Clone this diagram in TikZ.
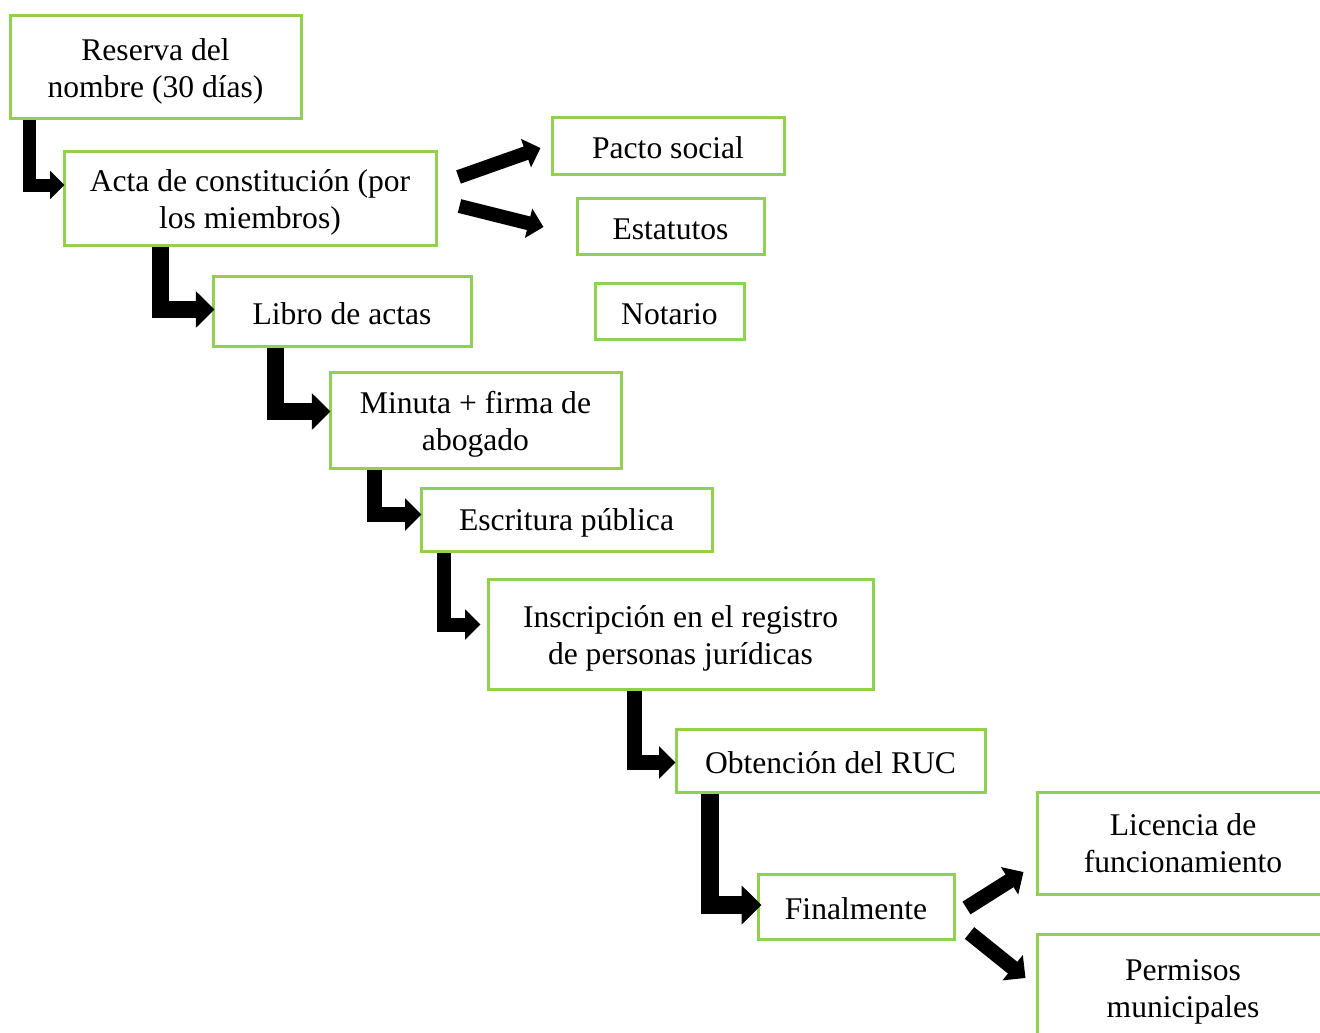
\documentclass[tikz,border=0pt]{standalone}
\usepackage{fontspec}
\setmainfont{Liberation Serif}
\usetikzlibrary{arrows.meta,calc}
\definecolor{boxgreen}{RGB}{146,208,80}
\newcommand{\boxfont}{\fontsize{23.7}{27.75}\selectfont}
\tikzset{every picture/.style={line width=0.75pt}}
\tikzset{
  lift/.style={execute at begin node={\rule{0pt}{#1}}},
  box/.style={draw=boxgreen, line width=2.25pt, fill=white, inner sep=0pt, align=center, font=\boxfont, lift=19.8pt},
  elbow/.style={draw=black, line width=#1, line join=miter, -{Triangle[length=0pt 1.1, width=0pt 2.1]}},
}

\begin{document}
\begin{tikzpicture}[x=0.75pt,y=0.75pt,yscale=-1,xscale=1]
\useasboundingbox (0,0) rectangle (1320,1032);
\clip (0,0) rectangle (1320,1032);

% Steps
\node [box, lift=51pt, minimum width=218.25pt, minimum height=77.25pt] (reserva) at (155.5,66.5) {Reserva del\\nombre (30 días)};
\node [box, lift=51pt, minimum width=279pt, minimum height=70.5pt] (acta) at (250,198) {Acta de constitución (por\\los miembros)};
\node [box, minimum width=193.5pt, minimum height=52.5pt] (libro) at (342,311) {Libro de actas};
\node [box, lift=51pt, minimum width=218.25pt, minimum height=72pt] (minuta) at (475.5,420) {Minuta + firma de\\abogado};
\node [box, lift=21pt, minimum width=218.25pt, minimum height=47.25pt] (escritura) at (566.5,519.5) {Escritura pública};
\node [box, lift=51pt, minimum width=288.75pt, minimum height=82.5pt] (inscripcion) at (680.5,634) {Inscripción en el registro\\de personas jurídicas};
\node [box, minimum width=231.75pt, minimum height=47.25pt] (ruc) at (830.5,760.5) {Obtención del RUC};
\node [box, minimum width=147pt, minimum height=48.75pt] (final) at (856,906.5) {Finalmente};

% Side boxes
\node [box, minimum width=174pt, minimum height=42.75pt] (pacto) at (668,145.5) {Pacto social};
\node [box, minimum width=140.25pt, minimum height=42pt] (estatutos) at (670.5,226) {Estatutos};
\node [box, minimum width=111.75pt, minimum height=42pt] (notario) at (669.5,311) {Notario};
\node [box, minimum width=219pt, minimum height=76.5pt] (licencia) at (1183,843) {Licencia de\\funcionamiento};
\node [box, lift=51pt, minimum width=219pt, minimum height=79.5pt] (permisos) at (1183,987) {Permisos\\municipales};

% Elbow arrows
\draw [elbow=9.75pt] ($(reserva.south west)+(20.5,0)$) |- ($(acta.west)+(2,-13)$);
\draw [elbow=12.75pt] ($(acta.south west)+(97.5,0)$) |- ($(libro.west)+(3,-1.5)$);
\draw [elbow=12.75pt] ($(libro.south west)+(63.5,0)$) |- ($(minuta.west)+(2,-8.5)$);
\draw [elbow=11.25pt] ($(minuta.south west)+(45.5,0)$) |- ($(escritura.west)+(2,-5)$);
\draw [elbow=10.5pt] ($(escritura.south west)+(24,0)$) |- ($(inscripcion.west)+(-6,-9.5)$);
\draw [elbow=11.25pt] ($(inscripcion.south west)+(147.5,0)$) |- ($(ruc.west)+(1,2)$);
\draw [elbow=13.5pt] ($(ruc.south west)+(35,0)$) |- ($(final.west)+(5,-1.5)$);

% Branch arrows
\draw [elbow=10.5pt] ($(acta.east)+(21,-21)$) -- ($(pacto.west)+(-10,2.5)$);
\draw [elbow=10.5pt] ($(acta.east)+(22,8)$) -- ($(estatutos.west)+(-32,1)$);
\draw [elbow=11.25pt] ($(final.east)+(11,1.5)$) -- ($(licencia.west)+(-12,29)$);
\draw [elbow=11.25pt] ($(final.east)+(14,26.5)$) -- ($(permisos.west)+(-10,-9)$);

\end{tikzpicture}
\end{document}
